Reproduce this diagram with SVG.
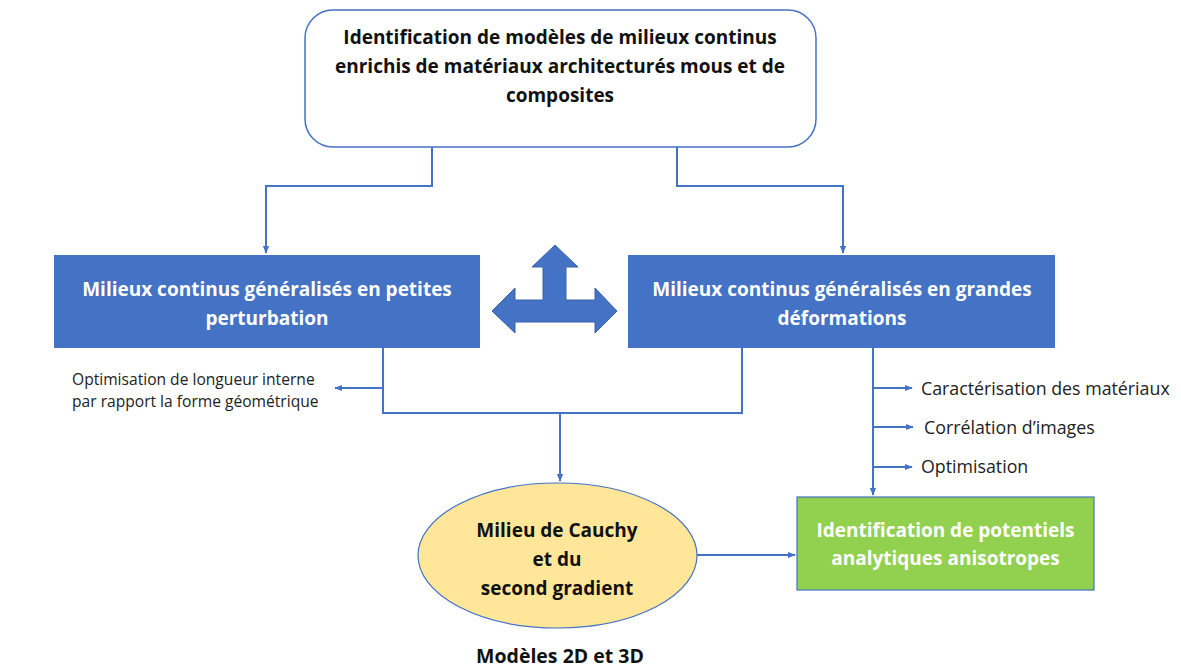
<svg xmlns="http://www.w3.org/2000/svg" width="1181" height="671" viewBox="0 0 1181 671">
<style>
.t{font-family:"Open Sans","Liberation Sans",sans-serif;font-weight:bold;text-anchor:middle}
.k{fill:#111}
.w{fill:#fff}
.s{font-family:"Open Sans","Liberation Sans",sans-serif;fill:#222}
.c{fill:none;stroke:#4472C4;stroke-width:2}
</style>
<defs>
<marker id="ah" viewBox="0 0 10 10" refX="9" refY="5" markerWidth="4" markerHeight="4" orient="auto">
<path d="M0,1 L10,5 L0,9 z" fill="#4472C4"/>
</marker>
</defs>
<rect width="1181" height="671" fill="#fff"/>
<g id="top">
<rect x="305" y="10" width="511" height="137" rx="28" fill="#fff" stroke="#4472C4" stroke-width="1.5"/>
<text class="t k" font-size="19" x="560" y="44">Identification de modèles de milieux continus</text>
<text class="t k" font-size="19" x="560" y="73">enrichis de matériaux architecturés mous et de</text>
<text class="t k" font-size="19" x="560" y="102">composites</text>
</g>
<g id="left">
<rect x="54" y="255" width="426" height="93" fill="#4472C4"/>
<text class="t w" font-size="19" x="267" y="296">Milieux continus généralisés en petites</text>
<text class="t w" font-size="19" x="267" y="325">perturbation</text>
</g>
<g id="right">
<rect x="628" y="255" width="427" height="93" fill="#4472C4"/>
<text class="t w" font-size="19" x="842" y="296">Milieux continus généralisés en grandes</text>
<text class="t w" font-size="19" x="842" y="325">déformations</text>
</g>
<g id="triarrow">
<path d="M555,245 L578,267 L566,267 L566,300 L595,300 L595,288 L617,311 L595,333 L595,322 L515,322 L515,333 L492,311 L515,288 L515,300 L543,300 L543,267 L532,267 Z" fill="#4472C4" stroke="#3A62A8" stroke-width="1"/>
</g>
<g id="ellipse">
<ellipse cx="557.5" cy="555.5" rx="139.5" ry="72.5" fill="#FFE699" stroke="#4472C4" stroke-width="1.2"/>
<text class="t k" font-size="19" x="557" y="537">Milieu de Cauchy</text>
<text class="t k" font-size="19" x="557" y="566">et du</text>
<text class="t k" font-size="19" x="557" y="595">second gradient</text>
</g>
<g id="green">
<rect x="797" y="497" width="297" height="93" fill="#92D050" stroke="#4472C4" stroke-width="1.2"/>
<text class="t w" font-size="19" x="945.5" y="537">Identification de potentiels</text>
<text class="t w" font-size="19" x="945.5" y="565">analytiques anisotropes</text>
</g>
<g id="labels">
<text class="s" font-size="15.6" x="72" y="385">Optimisation de longueur interne</text>
<text class="s" font-size="15.6" x="72" y="407">par rapport la forme géométrique</text>
<text class="s" font-size="17.8" x="921" y="395">Caractérisation des matériaux</text>
<text class="s" font-size="17.8" x="924" y="434">Corrélation d’images</text>
<text class="s" font-size="17.8" x="921" y="473">Optimisation</text>
<text class="t k" font-size="19.5" x="560" y="663">Modèles 2D et 3D</text>
</g>
<g id="connectors">
<path class="c" d="M432,147 V186 H266 V253" marker-end="url(#ah)"/>
<path class="c" d="M677,147 V186 H843 V253" marker-end="url(#ah)"/>
<path class="c" d="M383,348 V413 H742 V348"/>
<path class="c" d="M560,413 V481" marker-end="url(#ah)"/>
<path class="c" d="M383,388 H335" marker-end="url(#ah)"/>
<path class="c" d="M873,348 V495" marker-end="url(#ah)"/>
<path class="c" d="M873,388 H912" marker-end="url(#ah)"/>
<path class="c" d="M873,427 H913" marker-end="url(#ah)"/>
<path class="c" d="M873,467 H912" marker-end="url(#ah)"/>
<path class="c" d="M697,555 H795" marker-end="url(#ah)"/>
</g>
</svg>
